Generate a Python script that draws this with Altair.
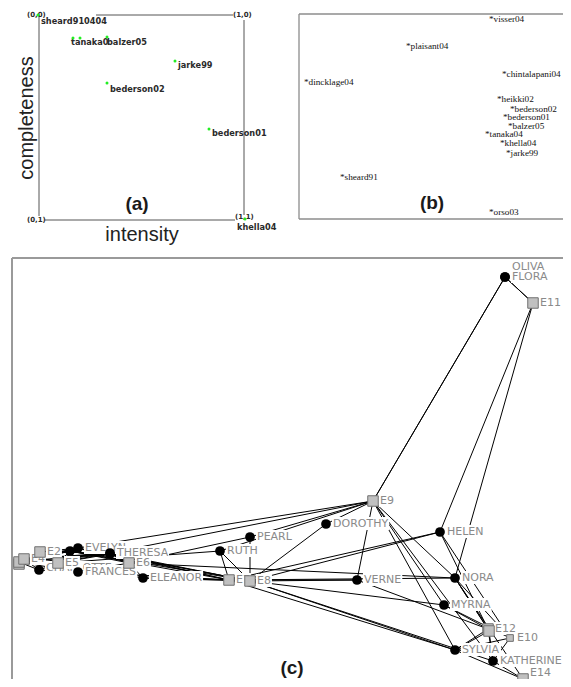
import altair as alt
import pandas as pd

W, H = 555, 671          # drawing size (page has 8px margin on every side)
OFF = 8

# ---------------- panel (a): intensity / completeness square ----------------
a_dot_x = [38, 73, 80, 107, 175, 107, 209, 245]
a_dot_y = [15, 38, 38, 37, 61, 83, 129, 219]
a_labels = ["sheard910404", "tanaka0", "balzer05", "jarke99", "bederson02", "bederson01", "khella04"]
a_label_x = [41, 71, 107, 178, 110, 212, 237]
a_label_y = [22, 43, 43, 66, 90, 134, 228]
a_corners = ["(0,0)", "(1,0)", "(0,1)", "(1,1)"]
a_corner_x = [27, 233, 27, 235]
a_corner_y = [15, 15, 220, 217]

# ---------------- panel (b): projection of papers ----------------
b_labels = ["*visser04", "*plaisant04", "*chintalapani04", "*dincklage04", "*heikki02",
            "*bederson02", "*bederson01", "*balzer05", "*tanaka04", "*khella04",
            "*jarke99", "*sheard91", "*orso03"]
b_x = [489, 406, 502, 304, 497, 510, 503, 508, 485, 500, 506, 340, 489]
b_y = [19, 46, 74, 82, 99, 109, 117, 126, 134, 143, 153, 177, 212]

# ---------------- panel (c): Southern women bipartite graph ----------------
women = ["EVELYN", "LAURA", "THERESA", "BRENDA", "CHARLOTTE", "FRANCES", "ELEANOR",
         "PEARL", "RUTH", "VERNE", "MYRNA", "KATHERINE", "SYLVIA", "NORA", "HELEN",
         "DOROTHY", "OLIVIA", "FLORA"]
women_x = [78, 70, 110, 110, 39, 78, 143, 250, 220, 357, 444, 493, 455, 455, 440, 326, 505, 505]
women_y = [548, 551, 553, 554, 570, 572, 578, 537, 551, 580, 605, 661, 650, 578, 532, 524, 277, 277]
women_label = ["EVELYN", "", "THERESA", "", "CHARLOTTE", "FRANCES", "ELEANOR", "PEARL",
               "RUTH", "VERNE", "MYRNA", "KATHERINE", "SYLVIA", "NORA", "HELEN",
               "DOROTHY", "OLIVA", "FLORA"]
women_label_y = [548, 551, 553, 554, 568, 572, 578, 537, 551, 580, 605, 661, 650, 578, 532,
                 524, 267, 277]
women_label_order = [0, 1, 1, 1, 0, 1, 1, 1, 1, 1, 1, 1, 1, 1, 1, 1, 1, 1]

events = ["E1", "E2", "E3", "E4", "E5", "E6", "E7", "E8", "E9", "E10", "E11", "E12", "E13", "E14"]
events_x = [19, 40, 19, 24, 58, 129, 229, 250, 373, 510, 533, 488, 489, 523]
events_y = [564, 552, 562, 559, 563, 563, 580, 581, 501, 638, 303, 629, 631, 679]
events_label = ["", "E2", "", "E4", "E5", "E6", "E7", "E8", "E9", "E10", "E11", "E12", "", "E14"]
events_label_y = [564, 552, 562, 559, 563, 563, 580, 581, 501, 638, 303, 629, 631, 673]

attendance = {
    "EVELYN": [1, 2, 3, 4, 5, 6, 8, 9],
    "LAURA": [1, 2, 3, 5, 6, 7, 8],
    "THERESA": [2, 3, 4, 5, 6, 7, 8, 9],
    "BRENDA": [1, 3, 4, 5, 6, 7, 8],
    "CHARLOTTE": [3, 4, 5, 7],
    "FRANCES": [3, 5, 6, 8],
    "ELEANOR": [5, 6, 7, 8],
    "PEARL": [6, 8, 9],
    "RUTH": [5, 7, 8, 9],
    "VERNE": [7, 8, 9, 12],
    "MYRNA": [8, 9, 10, 12],
    "KATHERINE": [8, 9, 10, 12, 13, 14],
    "SYLVIA": [7, 8, 9, 10, 12, 13, 14],
    "NORA": [6, 7, 9, 10, 11, 12, 13, 14],
    "HELEN": [7, 8, 10, 11, 12],
    "DOROTHY": [8, 9],
    "OLIVIA": [9, 11],
    "FLORA": [9, 11],
}

# panel frames (x, y, x2, y2, style group)
frame_x = [39, 96, 244, 45, 299, 299, 299, 12, 12]
frame_y = [15, 15, 20, 220, 14, 14, 219, 258, 258]
frame_x2 = [39, 233, 244, 235, 299, 571, 571, 571, 12]
frame_y2 = [216, 15, 215, 220, 219, 14, 219, 258, 687]
frame_grp = ["a", "a", "a", "a", "b", "b", "b", "c", "c"]

titles = ["(a)", "(b)", "(c)"]
titles_x = [137, 432, 292]
titles_y = [204, 203, 668]

# ---------------- build tables ----------------
xs = alt.Scale(domain=[OFF, OFF + W], range=[0, W], nice=False, zero=False)
ys = alt.Scale(domain=[OFF + H, OFF], nice=False, zero=False)


def enc_xy(xf="x", yf="y"):
    return dict(x=alt.X(f"{xf}:Q", scale=xs, axis=None), y=alt.Y(f"{yf}:Q", scale=ys, axis=None))


# approximate DejaVu Sans advance widths (em) for the label backgrounds
CW = dict(A=.684, B=.686, C=.698, D=.77, E=.632, F=.575, G=.775, H=.752, I=.295, K=.656,
          L=.557, M=.863, N=.748, O=.787, P=.603, R=.695, S=.635, T=.611, U=.732, V=.684,
          W=.989, Y=.611)


def text_w(s, size=11):
    return sum(CW.get(c, .636) for c in s) * size


pos = {}
for n, x, y in zip(women, women_x, women_y):
    pos[n] = (x, y)
for n, x, y in zip(events, events_x, events_y):
    pos[n] = (x, y)

edge_rows = []
for w, evs in attendance.items():
    for e in evs:
        x1, y1 = pos[w]
        x2, y2 = pos[f"E{e}"]
        edge_rows.append(dict(x=x1, y=y1, x2=x2, y2=y2))
edges_df = pd.DataFrame(edge_rows)

lab_rows = []
for t, x, y, o in zip(women_label, women_x, women_label_y, women_label_order):
    if t:
        lab_rows.append(dict(t=t, x=x, y=y, o=o, xl=x + 6, xr=x + 8 + text_w(t), yt=y - 7, yb=y + 6))
for t, x, y in zip(events_label, events_x, events_label_y):
    if t:
        lab_rows.append(dict(t=t, x=x, y=y, o=1, xl=x + 6, xr=x + 8 + text_w(t), yt=y - 7, yb=y + 6))
lab_df = pd.DataFrame(lab_rows)

frames_df = pd.DataFrame(dict(x=frame_x, y=frame_y, x2=frame_x2, y2=frame_y2, g=frame_grp))
a_dots_df = pd.DataFrame(dict(x=a_dot_x, y=a_dot_y))
a_lab_df = pd.DataFrame(dict(x=a_label_x, y=a_label_y, t=a_labels))
a_cor_df = pd.DataFrame(dict(x=a_corner_x, y=a_corner_y, t=a_corners))
b_df = pd.DataFrame(dict(x=b_x, y=b_y, t=b_labels))
w_df = pd.DataFrame(dict(x=women_x, y=women_y, name=women))
e_df = pd.DataFrame(dict(x=events_x, y=events_y, name=events))
t_df = pd.DataFrame(dict(x=titles_x, y=titles_y, t=titles))
ax_v = pd.DataFrame(dict(x=[27], y=[118], t=["completeness"]))
ax_h = pd.DataFrame(dict(x=[142], y=[235], t=["intensity"]))

layers = []

# frames
for g, col, sw in [("a", "#555555", 1), ("b", "#8c8c8c", 1.3), ("c", "#9a9a9a", 2)]:
    layers.append(
        alt.Chart(frames_df).transform_filter(alt.datum.g == g).mark_rule(color=col, strokeWidth=sw)
        .encode(x2="x2:Q", y2="y2:Q", **enc_xy())
    )

# panel (a)
layers.append(alt.Chart(a_lab_df).mark_text(align="left", baseline="middle", font="DejaVu Sans",
                                            fontWeight="bold", fontSize=8.2, color="#2a2a2a")
              .encode(text="t:N", **enc_xy()))
layers.append(alt.Chart(a_cor_df).mark_text(align="left", baseline="middle", font="DejaVu Sans",
                                            fontWeight="bold", fontSize=7, color="#2a2a2a")
              .encode(text="t:N", **enc_xy()))
layers.append(alt.Chart(a_dots_df).mark_circle(color="#22ee22", opacity=1, size=9)
              .encode(**enc_xy()))
layers.append(alt.Chart(ax_v).mark_text(align="center", baseline="middle", angle=270,
                                        font="Liberation Sans", fontSize=20, color="#222222")
              .encode(text="t:N", **enc_xy()))
layers.append(alt.Chart(ax_h).mark_text(align="center", baseline="middle",
                                        font="Liberation Sans", fontSize=20, color="#222222")
              .encode(text="t:N", **enc_xy()))

# panel (b)
layers.append(alt.Chart(b_df).mark_text(align="left", baseline="middle", font="Liberation Serif",
                                        fontSize=9.2, color="#111111")
              .encode(text="t:N", **enc_xy()))

# panel (c): edges, opaque labels, nodes
layers.append(alt.Chart(edges_df).mark_rule(color="#000000", strokeWidth=1)
              .encode(x2="x2:Q", y2="y2:Q", **enc_xy()))
for o in [0, 1]:
    sub = lab_df[lab_df.o == o]
    layers.append(alt.Chart(sub).mark_rect(fill="#ffffff", opacity=1)
                  .encode(x=alt.X("xl:Q", scale=xs, axis=None), x2="xr:Q",
                          y=alt.Y("yt:Q", scale=ys, axis=None), y2="yb:Q"))
    layers.append(alt.Chart(sub).mark_text(align="left", baseline="middle", dx=7, font="DejaVu Sans",
                                           fontSize=11, color="#8a8a8a")
                  .encode(text="t:N", **enc_xy()))
layers.append(alt.Chart(w_df).mark_circle(color="#000000", opacity=1, size=95)
              .encode(**enc_xy()))
layers.append(alt.Chart(e_df).mark_square(fill="#c0c0c0", stroke="#707070", strokeWidth=1, opacity=1)
              .encode(size=alt.condition(alt.datum.name == "E10", alt.value(45), alt.value(110)),
                      **enc_xy()))

# titles
layers.append(alt.Chart(t_df).mark_text(align="center", baseline="middle", font="Liberation Sans",
                                        fontWeight="bold", fontSize=19, color="#1a1a1a")
              .encode(text="t:N", **enc_xy()))

chart = alt.layer(*layers).properties(
    width=W, height=H, padding=0, autosize=alt.AutoSizeParams(type="none")
).configure_view(stroke=None)

chart.save("out.html", embed_options={"renderer": "svg", "actions": False})
